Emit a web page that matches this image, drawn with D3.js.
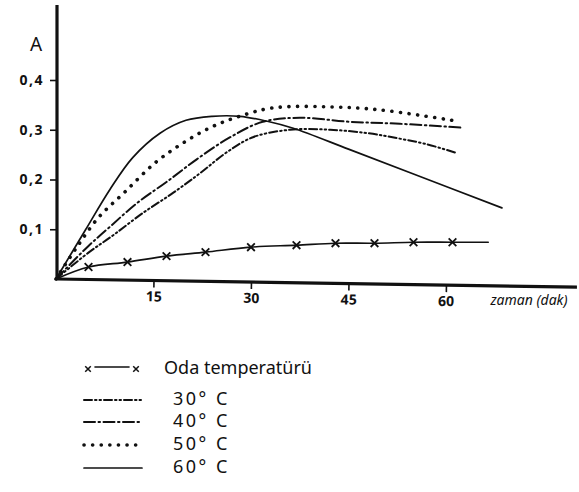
<!DOCTYPE html>
<html lang="en">
<head>
    <meta charset="UTF-8">
    <title>Absorbans - zaman</title>
    <script src="https://d3js.org/d3.v7.min.js"></script>
    <style>
        body, html {
            margin: 0;
            padding: 0;
            background: #ffffff;
        }
        svg text {
            font-family: "Noto Sans", "DejaVu Sans", sans-serif;
            fill: #111;
        }
    </style>
</head>
<body>
<div id="chart"></div>
<script>
// time (dak) and absorbance, one pair of arrays per curve
const odaT = [0, 5, 11, 17, 23, 30, 37, 43, 49, 55, 61, 66.5];
const odaA = [0, 0.024, 0.034, 0.046, 0.054, 0.064, 0.068, 0.072, 0.072, 0.074, 0.074, 0.074];
const t30 = [0, 4.9, 8.8, 13.4, 18, 22.2, 26.3, 30.3, 36, 42.2, 48, 52.5, 57, 61.7];
const a30 = [0, 0.052, 0.088, 0.133, 0.173, 0.213, 0.255, 0.285, 0.300, 0.300, 0.293, 0.283, 0.271, 0.253];
const t40 = [0, 4.8, 8.3, 12.5, 17, 21.7, 26.8, 31.8, 37.5, 45.2, 52.9, 62.6];
const a40 = [0, 0.064, 0.105, 0.153, 0.195, 0.241, 0.285, 0.316, 0.324, 0.316, 0.312, 0.304];
const t50 = [0, 3, 6.5, 10.6, 15.2, 19.5, 23.7, 28, 33.4, 42, 49.8, 61.4];
const a50 = [0, 0.06, 0.123, 0.175, 0.233, 0.273, 0.304, 0.326, 0.344, 0.346, 0.340, 0.318];
const t60 = [0, 4.5, 8.3, 11.8, 16, 20, 24, 28.3, 32.5, 36.5, 45, 55, 68.6];
const a60 = [0, 0.098, 0.18, 0.244, 0.293, 0.319, 0.327, 0.327, 0.317, 0.303, 0.261, 0.211, 0.143];

const xTicks = [15, 30, 45, 60];
const yTicks = [0.1, 0.2, 0.3, 0.4];
const yTickLabels = ["0,1", "0,2", "0,3", "0,4"];
const seriesNames = ["Oda temperatürü", "30° C", "40° C", "50° C", "60° C"];

(function() {
    const width = 579, height = 492;
    const ink = "#111";

    const svg = d3.select("#chart").append("svg")
        .attr("width", width)
        .attr("height", height);

    const x = d3.scaleLinear().domain([0, 60]).range([56, 446]);
    const y = d3.scaleLinear().domain([0, 0.4]).range([279, 80]);

    // line styles per series (dash patterns imitate the hand drawing)
    const styles = [
        {dash: null, w: 1.6},
        {dash: "8,3,1.5,3,1.5,3", w: 2},
        {dash: "11,3.5,1.5,3.5", w: 2},
        {dash: "0.1,8.5", w: 3.6},
        {dash: null, w: 1.7}
    ];

    const series = [
        d3.zip(odaT, odaA),
        d3.zip(t30, a30),
        d3.zip(t40, a40),
        d3.zip(t50, a50),
        d3.zip(t60, a60)
    ];

    const line = d3.line()
        .x(d => x(d[0]))
        .y(d => y(d[1]))
        .curve(d3.curveCatmullRom.alpha(0.5));

    svg.append("g")
        .selectAll("path")
        .data(series)
        .enter().append("path")
        .attr("d", line)
        .attr("fill", "none")
        .attr("stroke", ink)
        .attr("stroke-width", (d, i) => styles[i].w)
        .attr("stroke-linecap", "round")
        .attr("stroke-dasharray", (d, i) => styles[i].dash);

    // x markers on room temperature curve
    const cross = d3.symbol().type(d3.symbolTimes).size(40);
    svg.append("g")
        .selectAll("path")
        .data(series[0].slice(1, -1))
        .enter().append("path")
        .attr("transform", d => `translate(${x(d[0])},${y(d[1])})`)
        .attr("d", cross)
        .attr("fill", "none")
        .attr("stroke", ink)
        .attr("stroke-width", 1.8);

    // y axis
    svg.append("line")
        .attr("x1", 57).attr("y1", 5)
        .attr("x2", 57).attr("y2", 280)
        .attr("stroke", ink).attr("stroke-width", 3.2);

    const yAxis = svg.append("g")
        .attr("transform", "translate(57,0)")
        .call(d3.axisLeft(y).tickValues(yTicks)
            .tickFormat((d, i) => yTickLabels[i])
            .tickSize(7).tickPadding(6));
    yAxis.select(".domain").remove();
    yAxis.selectAll(".tick line").attr("stroke", ink).attr("stroke-width", 1.6);
    yAxis.selectAll(".tick text")
        .attr("font-size", 14)
        .attr("letter-spacing", 1.5)
        .attr("font-weight", "bold");

    svg.append("text")
        .attr("x", 36).attr("y", 51)
        .attr("text-anchor", "middle")
        .attr("font-size", 19)
        .text("A");

    // x axis, drawn a bit slanted like the original
    const xg = svg.append("g")
        .attr("transform", "rotate(0.9, 57, 279)");
    xg.append("line")
        .attr("x1", 57).attr("y1", 279)
        .attr("x2", 577).attr("y2", 279)
        .attr("stroke", ink).attr("stroke-width", 3.2);
    const xAxis = xg.append("g")
        .attr("transform", "translate(0,279)")
        .call(d3.axisBottom(x).tickValues(xTicks).tickSize(7).tickPadding(4));
    xAxis.select(".domain").remove();
    xAxis.selectAll(".tick line").attr("stroke", ink).attr("stroke-width", 1.6);
    xAxis.selectAll(".tick text")
        .attr("font-size", 14)
        .attr("font-weight", "bold");

    svg.append("text")
        .attr("x", 529).attr("y", 305)
        .attr("text-anchor", "middle")
        .attr("font-size", 14)
        .attr("font-style", "italic")
        .text("zaman (dak)");

    // legend
    const rowY = [368, 399, 421, 444, 467];
    const legend = svg.append("g");
    const rows = legend.selectAll("g")
        .data(seriesNames)
        .enter().append("g")
        .attr("transform", (d, i) => `translate(0,${rowY[i]})`);

    rows.append("line")
        .attr("x1", (d, i) => i === 0 ? 95 : 84)
        .attr("x2", (d, i) => i === 0 ? 129 : 142)
        .attr("y1", (d, i) => i === 0 ? -1 : 1)
        .attr("y2", (d, i) => i === 0 ? -1 : 1)
        .attr("stroke", ink)
        .attr("stroke-width", (d, i) => styles[i].w)
        .attr("stroke-linecap", "round")
        .attr("stroke-dasharray", (d, i) => styles[i].dash);

    legend.selectAll(".lx")
        .data([88, 136])
        .enter().append("path")
        .attr("class", "lx")
        .attr("transform", d => `translate(${d},${rowY[0] + 1})`)
        .attr("d", d3.symbol().type(d3.symbolTimes).size(22))
        .attr("fill", "none")
        .attr("stroke", ink)
        .attr("stroke-width", 1.5);

    rows.append("text")
        .attr("x", (d, i) => i === 0 ? 164 : 173)
        .attr("dy", "0.35em")
        .attr("font-size", 18)
        .attr("letter-spacing", (d, i) => i === 0 ? 0 : 2.5)
        .text(d => d);
})();
</script>
</body>
</html>
